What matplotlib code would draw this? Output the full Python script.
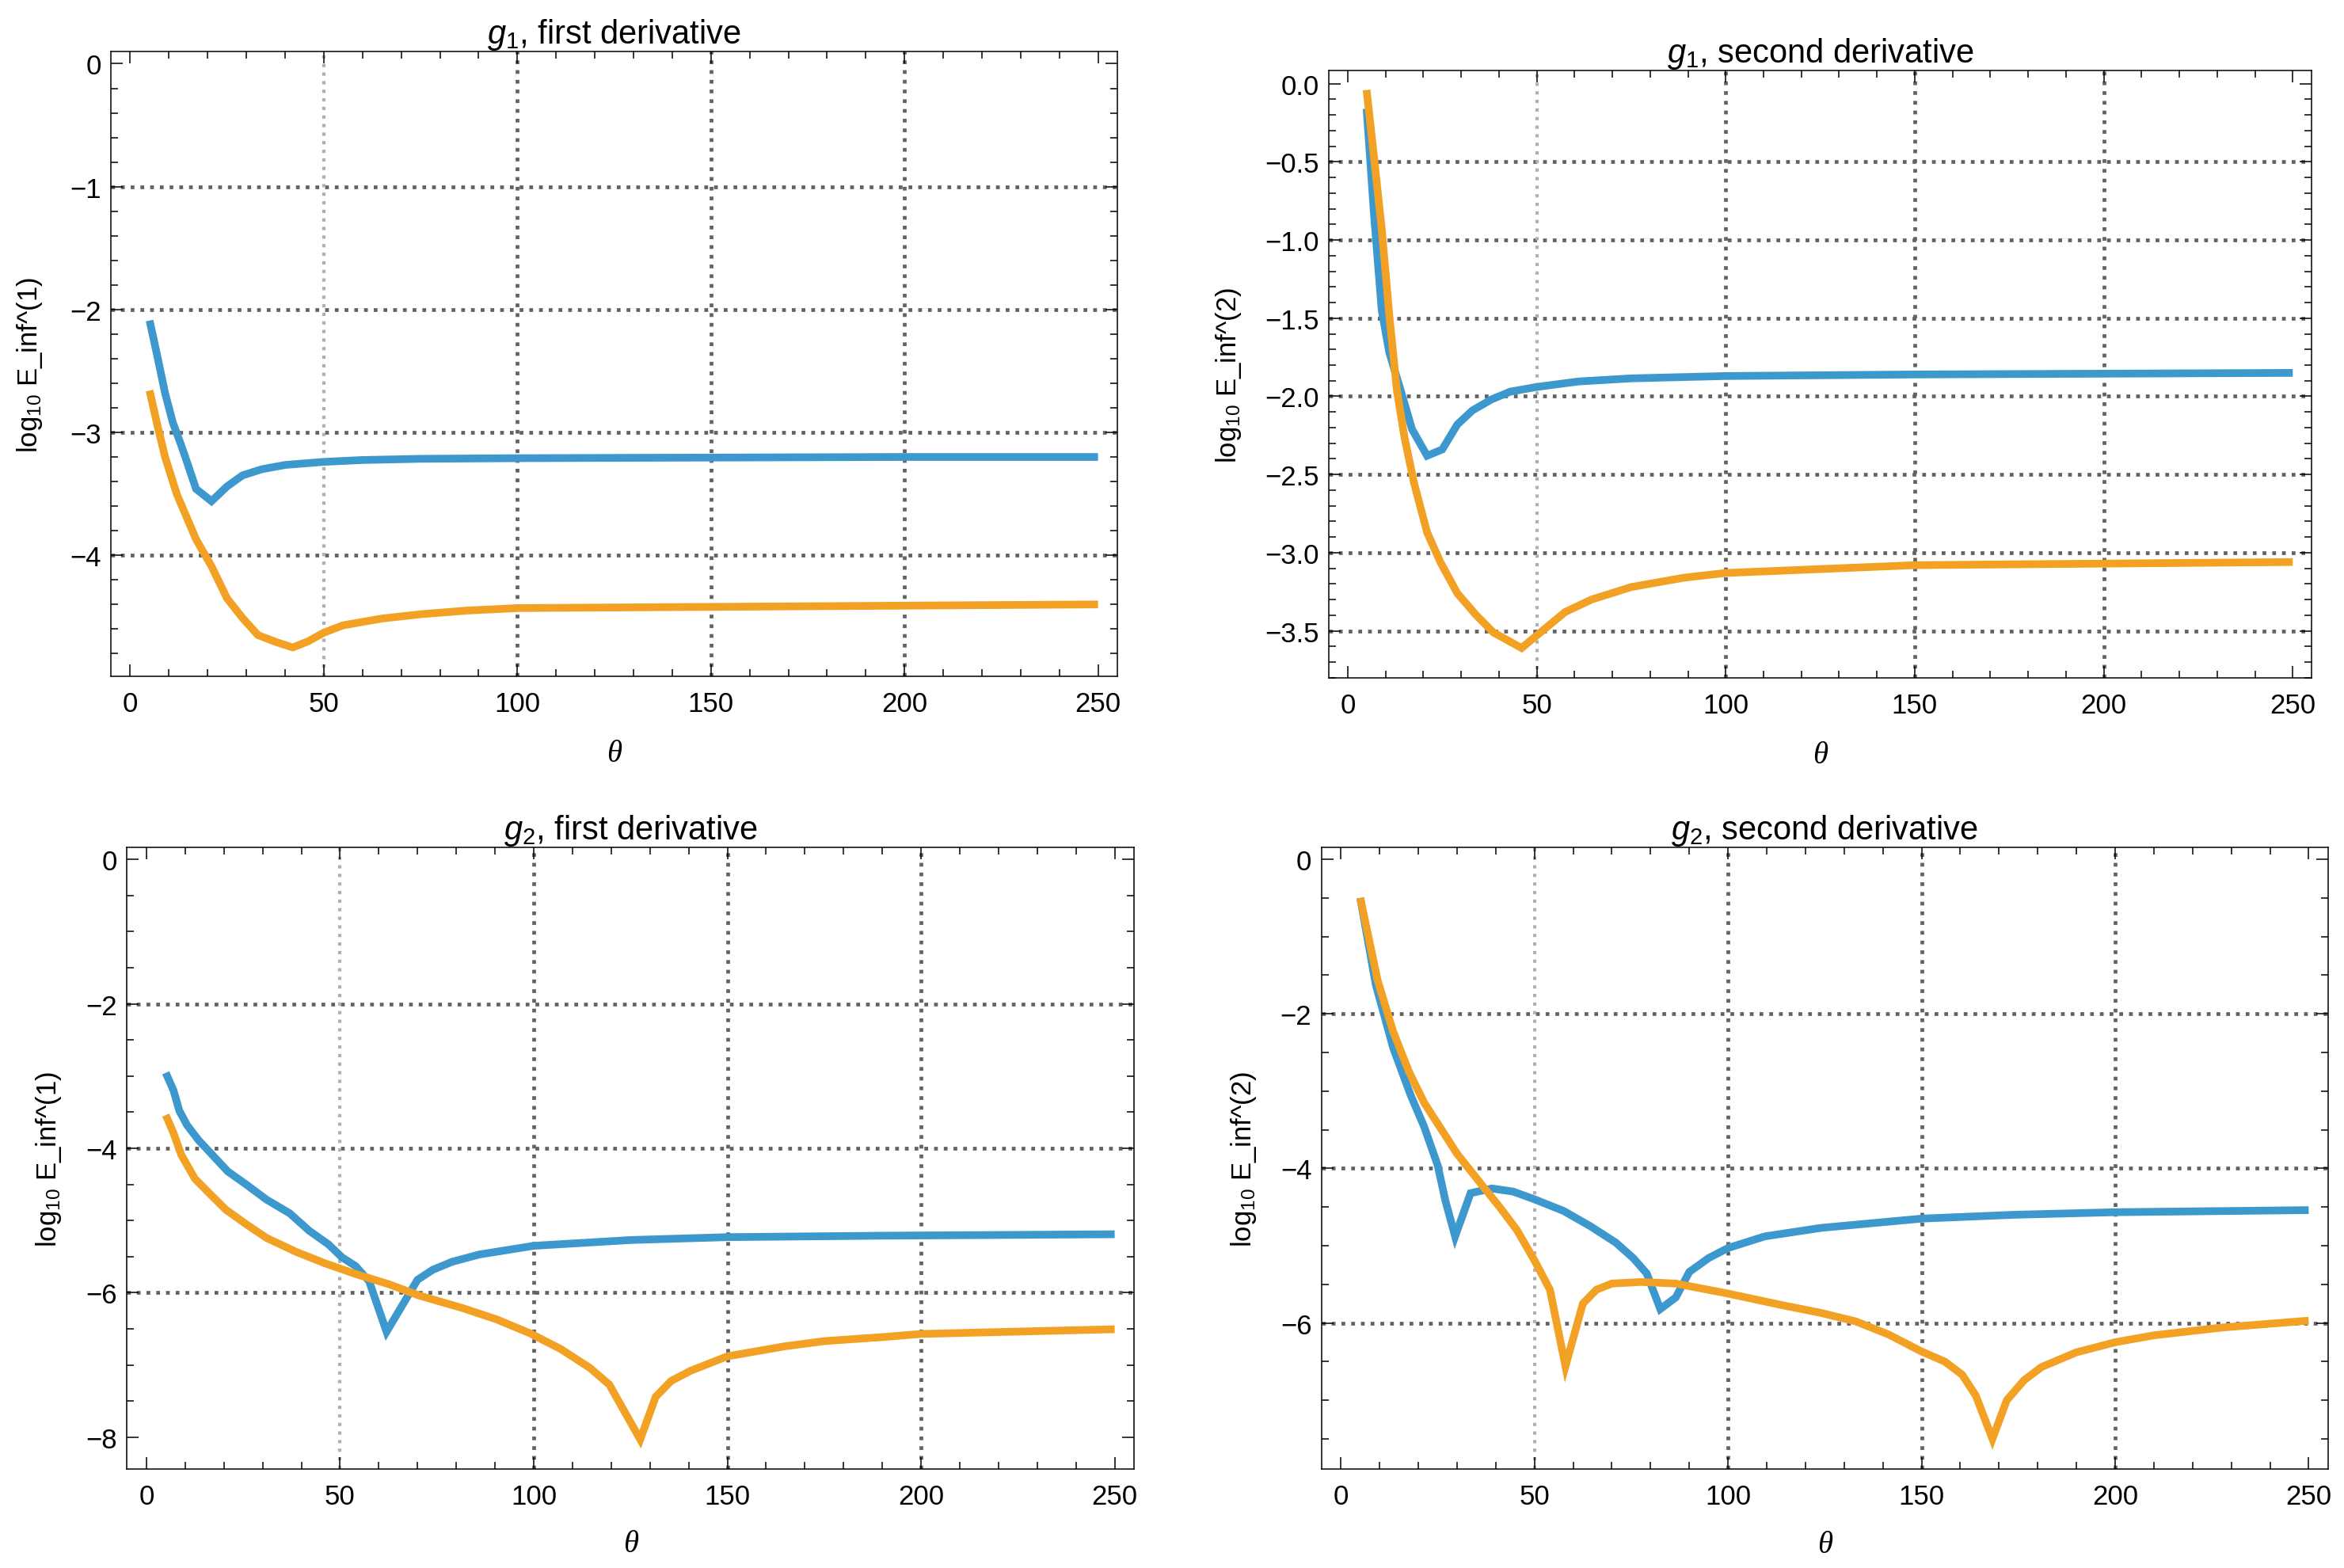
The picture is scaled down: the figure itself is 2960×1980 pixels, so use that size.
import matplotlib
matplotlib.use('Agg')
import matplotlib.pyplot as plt
from matplotlib.ticker import MultipleLocator

plt.rcParams['font.family'] = ['Liberation Sans', 'DejaVu Sans']
plt.rcParams['mathtext.fontset'] = 'custom'
plt.rcParams['mathtext.rm'] = 'Liberation Sans'
plt.rcParams['mathtext.it'] = 'Liberation Sans:italic'

BLUE = '#3D98CE'
ORANGE = '#F2A125'
DARK = '#626262'
LIGHT = '#B0B0B0'

# --- g1, first derivative ---
th_g1d1_blue = [5, 7, 9, 11, 13, 14, 17, 21, 25, 29, 34, 40, 50, 60, 75, 100, 150, 200, 250]
g1d1_blue = [-2.09, -2.38, -2.68, -2.92, -3.09, -3.18, -3.46, -3.56, -3.44, -3.35, -3.30, -3.265,
             -3.24, -3.225, -3.215, -3.21, -3.205, -3.20, -3.20]
th_g1d1_orange = [5, 7, 9, 12, 17, 21, 25, 29, 33, 38, 42, 46, 50, 55, 65, 75, 87, 100, 150, 200, 250]
g1d1_orange = [-2.66, -2.94, -3.20, -3.50, -3.87, -4.09, -4.35, -4.51, -4.65, -4.71, -4.75, -4.70,
               -4.63, -4.57, -4.515, -4.48, -4.45, -4.43, -4.42, -4.41, -4.40]

# --- g1, second derivative ---
th_g1d2_blue = [5, 7, 9, 11, 14, 17, 21, 25, 29, 33, 38, 43, 50, 61, 75, 100, 150, 200, 250]
g1d2_blue = [-0.16, -0.85, -1.45, -1.72, -1.96, -2.21, -2.38, -2.34, -2.18, -2.09, -2.02, -1.97,
             -1.94, -1.905, -1.885, -1.87, -1.86, -1.855, -1.85]
th_g1d2_orange = [5, 7, 9, 11, 13, 15, 17.5, 21, 24.5, 29, 34, 38.5, 46, 51.5, 57.5, 64.5, 75, 89,
                  100, 150, 200, 250]
g1d2_orange = [-0.04, -0.48, -0.93, -1.48, -1.96, -2.26, -2.55, -2.87, -3.06, -3.26, -3.40, -3.51,
               -3.61, -3.50, -3.38, -3.30, -3.22, -3.16, -3.13, -3.08, -3.07, -3.06]

# --- g2, first derivative ---
th_g2d1_blue = [5, 7, 8.5, 10.5, 13.5, 17, 21, 26, 31, 37, 42, 47, 50.5, 54, 57.5, 62, 67, 70, 74,
                79, 86, 100, 125, 150, 190, 250]
g2d1_blue = [-2.955, -3.20, -3.48, -3.68, -3.89, -4.09, -4.32, -4.51, -4.71, -4.90, -5.14, -5.33,
             -5.51, -5.63, -5.84, -6.54, -6.09, -5.82, -5.68, -5.57, -5.47, -5.35, -5.27, -5.23,
             -5.21, -5.19]
th_g2d1_orange = [5, 7, 9, 12.5, 16, 20.5, 26, 31, 38.5, 46, 54, 62.5, 70.5, 81.5, 90.5, 99, 107,
                  114.5, 119.5, 127.5, 131.5, 135.5, 140.5, 150, 165, 175, 191, 200, 250]
g2d1_orange = [-3.54, -3.79, -4.09, -4.42, -4.61, -4.85, -5.06, -5.24, -5.43, -5.59, -5.74, -5.88,
               -6.04, -6.21, -6.37, -6.56, -6.78, -7.04, -7.27, -8.03, -7.44, -7.22, -7.08, -6.88,
               -6.74, -6.67, -6.61, -6.57, -6.505]

# --- g2, second derivative ---
th_g2d2_blue = [5, 9, 13.5, 18, 21.5, 25, 27, 29.5, 33.5, 39, 44.5, 50, 57.5, 64.5, 71, 75.5, 79,
                82.5, 86.5, 90, 95, 100, 109.5, 124, 150, 174, 200, 250]
g2d2_blue = [-0.50, -1.62, -2.44, -3.05, -3.46, -3.96, -4.42, -4.88, -4.32, -4.26, -4.30, -4.40,
             -4.55, -4.75, -4.96, -5.16, -5.36, -5.82, -5.67, -5.34, -5.16, -5.03, -4.88, -4.77,
             -4.65, -4.60, -4.567, -4.54]
th_g2d2_orange = [5, 9.5, 13.5, 17.5, 21.5, 25.5, 30, 36.5, 41, 45.5, 50, 54, 58, 62.5, 66, 70,
                  77.5, 86.5, 100, 114, 124, 133, 141.5, 150, 156, 160.5, 164, 168.3, 172, 176.5,
                  181, 190, 200, 210, 227.5, 250]
g2d2_orange = [-0.50, -1.57, -2.23, -2.74, -3.15, -3.46, -3.81, -4.22, -4.50, -4.80, -5.19, -5.57,
               -6.56, -5.75, -5.57, -5.49, -5.47, -5.49, -5.62, -5.77, -5.87, -5.98, -6.15, -6.37,
               -6.50, -6.67, -6.94, -7.50, -7.00, -6.74, -6.57, -6.38, -6.25, -6.16, -6.06, -5.97]

panels = [
    dict(rect=[0.0473, 0.5684, 0.4294, 0.3983], title=r'$g_\mathregular{1}$, first derivative',
         ylabel=r'log$_\mathregular{10}$ E_inf^(1)', ylim=(-4.985, 0.10), ymaj=1, ymin=0.2,
         hgrid=[-1, -2, -3, -4], lab_x=-0.066, lab_y=-0.10,
         blue=(th_g1d1_blue, g1d1_blue), orange=(th_g1d1_orange, g1d1_orange)),
    dict(rect=[0.5669, 0.5675, 0.4193, 0.3870], title=r'$g_\mathregular{1}$, second derivative',
         ylabel=r'log$_\mathregular{10}$ E_inf^(2)', ylim=(-3.80, 0.084), ymaj=0.5, ymin=0.1,
         hgrid=[-0.5, -1.0, -1.5, -2.0, -2.5, -3.0, -3.5], lab_x=-0.087, lab_y=-0.103,
         blue=(th_g1d2_blue, g1d2_blue), orange=(th_g1d2_orange, g1d2_orange)),
    dict(rect=[0.0542, 0.0631, 0.4296, 0.3963], title=r'$g_\mathregular{2}$, first derivative',
         ylabel=r'log$_\mathregular{10}$ E_inf^(1)', ylim=(-8.44, 0.167), ymaj=2, ymin=0.5,
         hgrid=[-2, -4, -6], lab_x=-0.063, lab_y=-0.097,
         blue=(th_g2d1_blue, g2d1_blue), orange=(th_g2d1_orange, g2d1_orange)),
    dict(rect=[0.5638, 0.0631, 0.4294, 0.3963], title=r'$g_\mathregular{2}$, second derivative',
         ylabel=r'log$_\mathregular{10}$ E_inf^(2)', ylim=(-7.89, 0.155), ymaj=2, ymin=0.5,
         hgrid=[-2, -4, -6], lab_x=-0.063, lab_y=-0.098,
         blue=(th_g2d2_blue, g2d2_blue), orange=(th_g2d2_orange, g2d2_orange)),
]

dots = (0, (1.0, 1.6))

fig = plt.figure(figsize=(29.6, 19.81), dpi=100)

for p in panels:
    ax = fig.add_axes(p['rect'])
    for h in p['hgrid']:
        ax.axhline(h, color=DARK, lw=3.4, ls=dots, zorder=1)
    for v in (100, 150, 200):
        ax.axvline(v, color=DARK, lw=3.4, ls=dots, zorder=1)
    ax.axvline(50, color=LIGHT, lw=3.0, ls=dots, zorder=1)

    ax.plot(*p['blue'], color=BLUE, lw=7, solid_joinstyle='miter', solid_capstyle='butt', zorder=3)
    ax.plot(*p['orange'], color=ORANGE, lw=7, solid_joinstyle='miter', solid_capstyle='butt', zorder=4)

    ax.set_xlim(-5, 255)
    ax.set_ylim(*p['ylim'])
    ax.xaxis.set_major_locator(MultipleLocator(50))
    ax.xaxis.set_minor_locator(MultipleLocator(10))
    ax.yaxis.set_major_locator(MultipleLocator(p['ymaj']))
    ax.yaxis.set_minor_locator(MultipleLocator(p['ymin']))

    ax.tick_params(which='both', direction='in', top=True, right=True, width=1.1, color='black')
    ax.tick_params(which='major', length=10.8, labelsize=25)
    ax.tick_params(which='minor', length=6.8)
    ax.tick_params(axis='x', pad=13)
    ax.tick_params(axis='y', pad=9)
    for s in ax.spines.values():
        s.set_linewidth(1.1)
        s.set_color('black')

    ax.set_title(p['title'], fontsize=30, pad=5)
    ax.set_ylabel(p['ylabel'], fontsize=25)
    ax.yaxis.set_label_coords(p['lab_x'], 0.5)
    ax.set_xlabel('θ', fontsize=28, fontfamily='Liberation Serif', fontstyle='italic')
    ax.xaxis.set_label_coords(0.5, p['lab_y'])

fig.savefig('out.png', dpi=100)
